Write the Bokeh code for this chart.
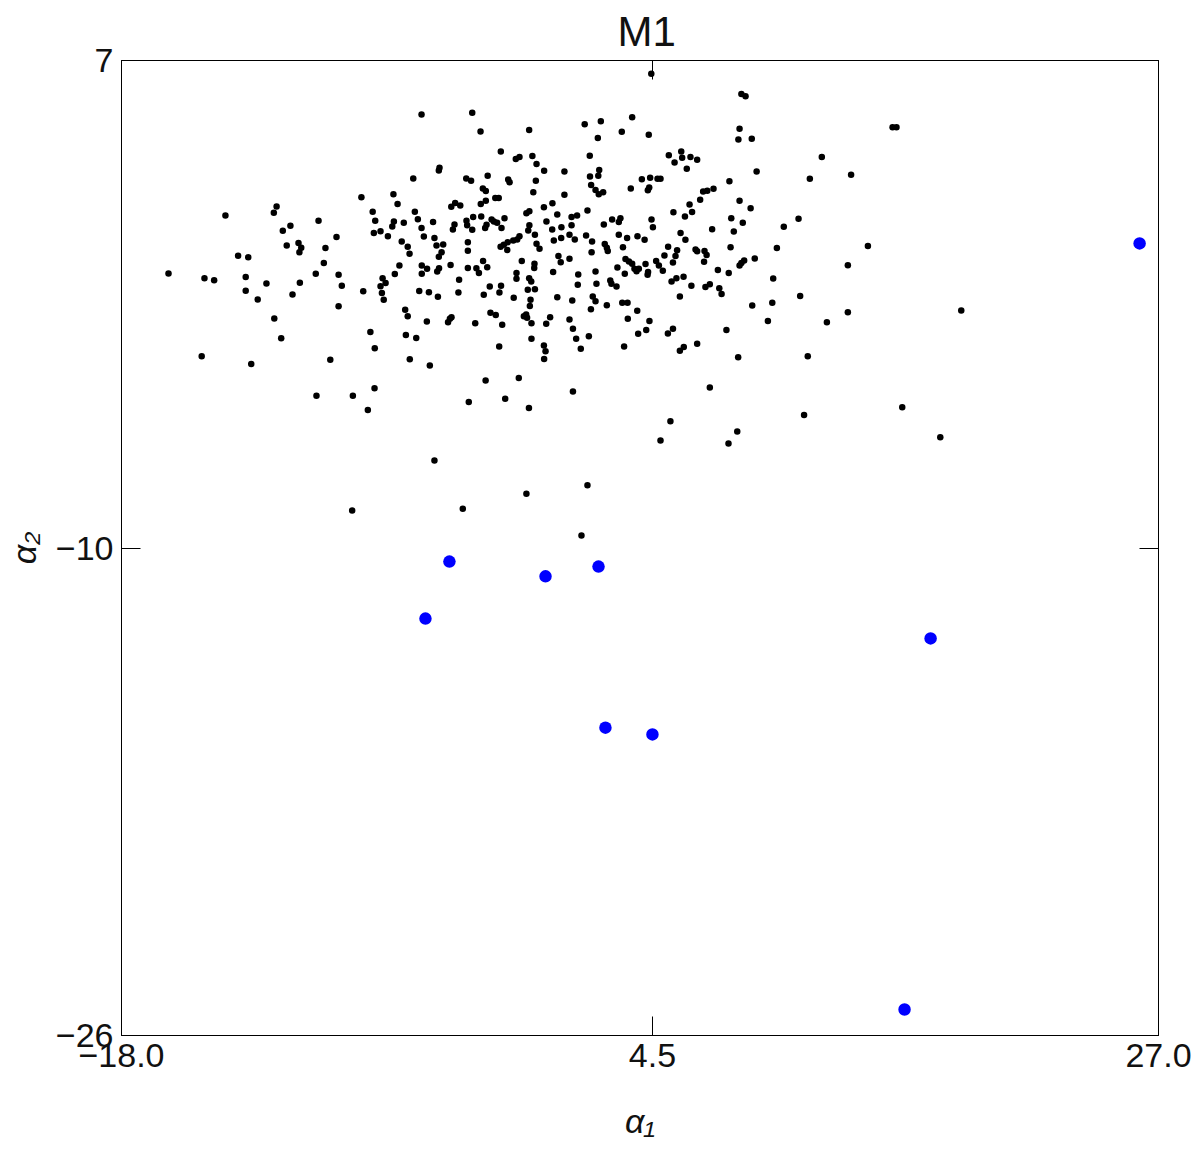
from bokeh.plotting import figure
from bokeh.models import LinearAxis, FixedTicker, Range1d, ColumnDataSource
from bokeh.embed import file_html
from bokeh.resources import INLINE

# ---- data (alpha_1, alpha_2) ----
points_top = [
    (4.99, 6.55), (8.90, 5.87), (9.08, 5.79), (4.16, 5.08), (2.10, 4.84), (2.80, 4.94), (3.71, 4.59),
    (4.88, 4.49), (2.67, 4.38), (8.82, 4.69), (8.77, 4.33), (9.35, 4.35), (2.32, 3.78), (5.75, 3.79),
    (6.29, 3.92), (6.33, 3.71), (6.69, 3.73), (6.98, 3.64), (6.00, 3.55), (6.53, 3.34), (9.56, 3.24),
    (2.73, 3.29), (2.33, 3.07), (2.69, 3.10), (4.58, 2.98), (4.94, 3.03), (5.26, 3.00), (5.39, 3.00),
    (8.38, 2.91), (4.10, 2.67), (4.84, 2.61), (4.90, 2.70), (2.38, 2.79), (2.57, 2.62), (2.71, 2.47),
    (2.90, 2.54), (7.24, 2.57), (7.42, 2.59), (7.69, 2.66), (7.11, 2.29), (6.65, 2.13), (8.82, 2.25),
    (9.30, 2.00), (2.22, 1.92), (5.95, 1.86), (6.76, 1.87),
    (-4.98, 5.17), (-2.78, 5.23), (-2.42, 4.60), (-0.31, 4.65), (-1.54, 3.92), (-0.89, 3.67),
    (-0.73, 3.73), (-0.17, 3.77), (0.01, 3.50), (0.34, 3.27), (1.22, 3.24), (-4.20, 3.37), (-4.23, 3.28),
    (-5.34, 3.01), (-3.04, 3.01), (-2.83, 2.93), (-2.11, 3.10), (-1.22, 2.97), (-1.16, 2.88),
    (-0.02, 2.93), (-2.32, 2.67), (-2.19, 2.58), (-1.78, 2.35), (-1.63, 2.35), (-2.19, 2.25),
    (-2.41, 2.14), (-0.13, 2.54), (1.22, 2.46), (-7.59, 2.37), (-6.20, 2.47), (-6.02, 2.14),
    (-7.10, 1.88), (-5.27, 1.88), (-3.69, 2.05), (-3.52, 2.18), (-3.30, 2.09), (-0.43, 1.83),
    (-0.30, 1.90), (0.33, 2.03), (0.70, 2.17), (0.91, 1.79),
    (15.46, 4.74), (15.63, 4.74), (12.39, 3.73), (11.87, 3.00), (13.66, 3.13),
]

points_left = [
    (-13.49, 1.75), (-11.27, 2.06), (-11.39, 1.85), (-9.45, 1.58), (-10.67, 1.41), (-11.00, 1.24),
    (-8.67, 1.03), (-10.32, 0.82), (-10.20, 0.66), (-10.28, 0.51), (-10.83, 0.74), (-9.15, 0.65),
    (-12.94, 0.39), (-12.50, 0.34), (-9.22, 0.15), (-15.96, -0.21), (-14.40, -0.37), (-13.98, -0.44),
    (-12.61, -0.33), (-9.57, -0.22), (-8.58, -0.25), (-8.44, -0.62), (-10.26, -0.52), (-11.71, -0.55),
    (-12.61, -0.79), (-10.58, -0.92), (-12.09, -1.09), (-8.58, -1.32), (-11.37, -1.73), (-11.07, -2.40),
    (-14.52, -3.01), (-12.37, -3.27), (-8.94, -3.13),
]

points_core_left = [
    (-6.99, 1.58), (-7.05, 1.16), (-6.76, 1.22), (-6.44, 1.05), (-6.18, 1.55), (-6.25, 1.38), (-5.75, 1.51),
    (-5.14, 1.63), (-4.98, 1.33), (-4.88, 1.04), (-4.48, 1.53), (-4.42, 0.99), (-5.84, 0.87), (-5.58, 0.70),
    (-5.50, 0.46), (-4.33, 0.74), (-4.04, 0.77), (-4.11, 0.51), (-4.23, 0.36), (-3.55, 1.45), (-3.62, 1.28),
    (-3.03, 1.58), (-3.00, 1.42), (-2.74, 1.70), (-2.78, 1.27), (-2.39, 1.72), (-2.16, 1.44), (-2.22, 1.33),
    (-1.94, 1.62), (-1.84, 1.55), (-1.70, 1.51), (-1.38, 1.66), (-1.51, 1.33), (-2.97, 0.85), (-2.97, 0.56),
    (-1.55, 0.70), (-1.41, 0.76), (-1.24, 0.85), (-1.00, 0.91), (-0.83, 0.94), (-0.73, 1.05), (-1.26, 0.59),
    (-0.30, 1.42), (-0.35, 1.25), (-0.06, 1.10), (0.01, 0.80), (0.14, 0.63), (0.44, 1.55), (0.69, 1.28),
    (1.09, 1.36), (0.76, 0.91), (1.08, 0.99), (0.96, 0.38), (1.06, 0.17),
    (-5.94, 0.06), (-6.14, -0.23), (-6.67, -0.37), (-6.54, -0.53), (-6.76, -0.64), (-6.70, -0.87),
    (-6.62, -1.10), (-7.51, -0.81), (-4.97, 0.06), (-4.74, -0.05), (-4.97, -0.22), (-4.22, -0.03),
    (-4.30, -0.14), (-3.72, 0.08), (-3.35, -0.42), (-2.97, -0.02), (-2.60, -0.03), (-2.49, -0.19),
    (-2.31, 0.21), (-2.13, 0.00), (-0.63, 0.21), (-0.08, 0.12), (-0.09, -0.02), (-0.86, -0.19),
    (-0.86, -0.39), (-0.31, -0.37), (-0.22, -0.48), (0.73, -0.16), (-5.08, -0.80), (-4.66, -0.84),
    (-4.27, -1.00), (-3.38, -0.85), (-2.02, -0.65), (-1.53, -0.62), (-2.28, -0.93), (-1.60, -0.85),
    (-0.98, -1.03), (-0.37, -0.76), (-0.06, -0.74), (-0.25, -1.10), (-0.28, -1.31), (0.91, -1.01),
    (-5.69, -1.44), (-5.58, -1.66), (-4.75, -1.83), (-3.75, -1.74), (-3.68, -1.69), (-3.83, -1.86),
    (-2.65, -1.89), (-1.99, -1.54), (-1.76, -1.61), (-1.48, -1.94), (-0.54, -1.66), (-0.44, -1.60),
    (-0.40, -1.71), (-0.21, -1.89), (0.43, -1.91), (0.60, -1.69), (-7.20, -2.19), (-5.66, -2.29),
    (-5.21, -2.39), (-7.01, -2.74), (-0.21, -2.42), (-1.61, -2.68), (0.33, -2.65), (0.40, -2.84),
    (0.34, -3.10), (-5.49, -3.11), (-4.62, -3.32),
]

points_core_right = [
    (1.53, 1.70), (1.77, 1.75), (3.29, 1.62), (3.58, 1.53), (3.65, 1.66), (5.00, 1.62), (5.06, 1.36),
    (6.45, 1.72), (8.46, 1.66), (8.96, 1.51), (2.93, 1.45), (1.53, 1.42), (1.44, 1.10), (1.67, 0.94),
    (2.16, 1.08), (2.42, 0.87), (2.40, 0.51), (2.97, 0.79), (3.06, 0.66), (3.10, 0.55), (3.58, 1.10),
    (3.94, 0.99), (4.39, 1.05), (4.70, 0.93), (3.76, 0.68), (1.44, 0.29), (6.26, 1.16), (6.47, 0.93),
    (7.63, 1.29), (8.57, 1.21), (8.43, 0.68), (5.72, 0.70), (6.11, 0.58), (6.04, 0.38), (5.56, 0.40),
    (6.91, 0.60), (6.98, 0.54), (7.30, 0.55), (7.39, 0.42), (7.28, 0.19), (7.88, -0.09), (8.35, -0.19),
    (8.82, 0.06), (8.90, 0.15), (9.02, 0.23), (9.48, 0.30), (5.93, 0.16), (5.20, 0.21), (5.32, 0.06),
    (5.49, -0.12), (4.74, 0.11), (4.85, -0.16), (4.83, -0.25), (3.87, 0.28), (4.02, 0.20), (4.16, 0.12),
    (4.26, -0.05), (4.35, -0.13), (4.45, -0.05), (3.52, -0.01), (3.84, -0.22), (1.82, -0.24), (2.57, -0.14),
    (1.80, -0.59), (2.61, -0.56), (3.21, -0.45), (3.26, -0.56), (3.48, -0.65), (5.87, -0.48), (6.08, -0.37),
    (6.39, -0.32), (6.73, -0.62), (7.34, -0.67), (7.53, -0.57), (7.94, -0.71), (8.04, -0.90), (6.23, -0.99),
    (1.56, -1.12), (2.45, -0.99), (2.57, -1.15), (2.37, -1.42), (3.06, -1.28), (3.73, -1.20), (3.96, -1.20),
    (4.38, -1.47), (9.37, -1.29), (10.05, -1.82), (1.44, -1.77), (1.59, -2.08), (1.73, -2.42), (2.28, -2.33),
    (1.93, -2.76), (3.97, -1.74), (4.91, -1.82), (4.77, -2.12), (4.42, -2.25), (5.71, -2.24), (5.93, -2.08),
    (3.81, -2.68), (6.23, -2.82), (6.40, -2.70), (6.98, -2.59), (8.25, -2.12), (8.76, -3.04),
    (11.38, 1.64), (10.74, 1.37), (10.44, 0.65), (14.39, 0.72), (13.52, 0.07), (10.28, -0.38),
    (11.45, -0.97), (10.24, -1.20), (13.52, -1.52), (12.61, -1.86), (18.44, -1.46), (11.78, -3.01),
]

points_lower = [
    (-9.54, -4.35), (-7.96, -4.35), (-7.99, -8.23),
    (-7.02, -4.09), (-7.31, -4.83), (-2.20, -3.83), (-0.76, -3.75), (-2.93, -4.56), (-1.35, -4.45),
    (-0.32, -4.76), (-4.42, -6.54), (-0.43, -7.66), (-3.19, -8.17),
    (1.59, -4.20), (7.53, -4.07), (5.82, -5.21), (5.39, -5.86), (8.72, -5.56), (8.34, -5.96),
    (2.22, -7.38), (1.96, -9.08),
    (11.62, -5.00), (15.88, -4.74), (17.53, -5.75),
]

outlier_alpha1 = [26.18, -3.77, 0.40, 2.70, -4.81, 17.11, 3.00, 5.04, 15.98]
outlier_alpha2 = [0.81, -9.96, -10.46, -10.13, -11.89, -12.56, -15.58, -15.81, -25.12]

x_ticks = [-18.0, 5.04, 27.0]
x_tick_labels = ["\u221218.0", "4.5", "27.0"]
y_ticks = [-26.0, -9.5, 7.0]
y_tick_labels = ["\u221226", "\u221210", "7"]

all_points = points_top + points_left + points_core_left + points_core_right + points_lower
bulk_alpha1 = [pt[0] for pt in all_points]
bulk_alpha2 = [pt[1] for pt in all_points]

FONT = "Liberation Sans"
TICK_FS = "34px"
INK = "#111111"

p = figure(
    frame_width=1037, frame_height=975,
    min_border_left=121, min_border_top=60, min_border_right=34, min_border_bottom=118,
    x_range=Range1d(-18, 27), y_range=Range1d(-26, 7),
    output_backend="svg", toolbar_location=None,
    x_axis_location=None, y_axis_location=None,
)
p.grid.visible = False
p.outline_line_color = "black"
p.outline_line_width = 1
p.background_fill_color = "white"
p.border_fill_color = "white"

p.title.text = "M1"
p.title.align = "left"
p.title.offset = 496
p.title.text_font = FONT
p.title.text_font_size = "42px"
p.title.text_font_style = "normal"
p.title.text_color = INK
p.title.standoff = 11

xo = dict(zip(x_ticks, x_tick_labels))
yo = dict(zip(y_ticks, y_tick_labels))

def style_axis(ax, show_labels):
    ax.major_tick_in = 19
    ax.major_tick_out = 0
    ax.minor_tick_in = 0
    ax.minor_tick_out = 0
    ax.axis_line_color = "black"
    ax.major_tick_line_color = "black"
    ax.major_label_text_font = FONT
    ax.axis_label_text_font = FONT
    ax.axis_label_text_font_style = "italic"
    ax.major_label_text_color = INK
    ax.axis_label_text_color = INK
    if show_labels:
        ax.major_label_text_font_size = TICK_FS
    else:
        ax.major_label_text_font_size = "1px"
        ax.major_label_text_alpha = 0
        ax.major_label_standoff = 0

xb = LinearAxis(ticker=FixedTicker(ticks=x_ticks), major_label_overrides=xo,
                axis_label="\u03b1\u2081", axis_label_text_font_size="34px", axis_label_standoff=32,
                major_label_standoff=8)
style_axis(xb, True)
p.add_layout(xb, "below")

xt = LinearAxis(ticker=FixedTicker(ticks=x_ticks), major_label_overrides={v: "" for v in x_ticks})
style_axis(xt, False)
p.add_layout(xt, "above")

yl = LinearAxis(ticker=FixedTicker(ticks=y_ticks), major_label_overrides=yo,
                axis_label="\u03b1\u2082", axis_label_text_font_size="34px", axis_label_standoff=10,
                major_label_standoff=8, major_label_orientation="horizontal")
style_axis(yl, True)
p.add_layout(yl, "left")

yr = LinearAxis(ticker=FixedTicker(ticks=y_ticks), major_label_overrides={v: "" for v in y_ticks})
style_axis(yr, False)
p.add_layout(yr, "right")

bulk = ColumnDataSource(data=dict(a1=bulk_alpha1, a2=bulk_alpha2))
p.scatter("a1", "a2", source=bulk, size=6.5, fill_color="black", line_color="black", line_width=0)

out = ColumnDataSource(data=dict(a1=outlier_alpha1, a2=outlier_alpha2))
p.scatter("a1", "a2", source=out, size=12.5, fill_color="#0000ff", line_color="#0000ff", line_width=0)

open("out.html", "w").write(file_html(p, INLINE))
